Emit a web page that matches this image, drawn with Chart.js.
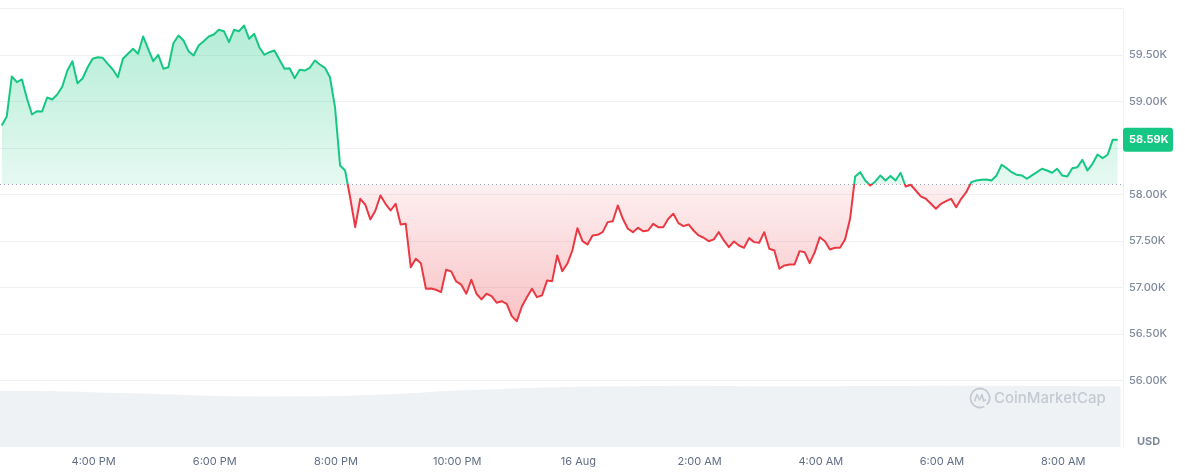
<!DOCTYPE html>
<html>
<head>
<meta charset="utf-8">
<script src="https://cdn.jsdelivr.net/npm/chart.js@4.4.1/dist/chart.umd.min.js"></script>
<style>
  html, body { margin: 0; padding: 0; background: #fff; }
  #wrap { width: 1185px; height: 473px; }
</style>
</head>
<body>
<div id="wrap"><canvas id="chart" width="1185" height="473"></canvas></div>
<script>
// BTC / USD, one point every 5 minutes (15 Aug afternoon -> 16 Aug morning)
const startMinute = -91;   // minutes from 4:00 PM to the first point
const stepMinutes = 5;
const openPrice = 58108;   // the dotted reference line

const prices = [
  58742, 58839, 59269, 59208, 59237, 59032, 58860, 58896, 58893, 59043,
  59022, 59075, 59161, 59333, 59433, 59197, 59247, 59366, 59459, 59476,
  59470, 59405, 59344, 59261, 59459, 59513, 59567, 59513, 59699, 59567,
  59433, 59502, 59352, 59369, 59627, 59710, 59656, 59541, 59495, 59602,
  59648, 59699, 59720, 59771, 59756, 59638, 59771, 59756, 59817, 59674,
  59728, 59584, 59502, 59530, 59548, 59448, 59352, 59358, 59251, 59341,
  59333, 59362, 59441, 59398, 59362, 59261, 58939, 58312, 58258, 57968,
  57649, 57954, 57890, 57732, 57828, 57990, 57900, 57828, 57900, 57678,
  57685, 57219, 57309, 57262, 56987, 56990, 56976, 56950, 57191, 57173,
  57065, 57030, 56933, 57083, 56933, 56872, 56933, 56907, 56836, 56853,
  56825, 56692, 56638, 56796, 56896, 56987, 56896, 56915, 57076, 57068,
  57345, 57176, 57255, 57398, 57638, 57498, 57463, 57560, 57567, 57595,
  57703, 57713, 57882, 57739, 57632, 57595, 57642, 57606, 57613, 57685,
  57649, 57649, 57739, 57793, 57692, 57660, 57678, 57613, 57560, 57535,
  57498, 57517, 57595, 57506, 57434, 57495, 57452, 57427, 57531, 57488,
  57481, 57595, 57417, 57398, 57202, 57237, 57248, 57248, 57391, 57380,
  57262, 57380, 57541, 57498, 57409, 57427, 57427, 57517, 57739, 58194,
  58240, 58151, 58097, 58140, 58205, 58151, 58200, 58151, 58234, 58086,
  58105, 58043, 57979, 57954, 57900, 57847, 57900, 57928, 57954, 57864,
  57954, 58025, 58133, 58151, 58158, 58162, 58151, 58205, 58320, 58283,
  58240, 58212, 58205, 58169, 58205, 58240, 58277, 58258, 58234, 58277,
  58205, 58194, 58283, 58294, 58373, 58258, 58330, 58430, 58391, 58427,
  58588, 58590
];

// 24h volume, billions USD (same points)
const volumes = [
  31.9, 31.9, 31.8, 31.8, 31.9, 31.8, 31.7, 31.8, 31.7, 31.6,
  31.7, 31.6, 31.5, 31.5, 31.4, 31.3, 31.3, 31.2, 31.0, 30.9,
  30.8, 30.7, 30.6, 30.6, 30.5, 30.5, 30.4, 30.3, 30.3, 30.2,
  30.1, 30.0, 29.9, 29.8, 29.7, 29.6, 29.5, 29.4, 29.3, 29.2,
  29.1, 29.0, 29.0, 28.9, 28.9, 28.8, 28.8, 28.8, 28.7, 28.7,
  28.7, 28.6, 28.6, 28.6, 28.6, 28.6, 28.7, 28.7, 28.7, 28.7,
  28.7, 28.8, 28.8, 28.8, 28.8, 28.9, 28.9, 28.9, 29.0, 29.1,
  29.2, 29.3, 29.4, 29.5, 29.6, 29.7, 29.8, 29.9, 30.0, 30.1,
  30.3, 30.5, 30.6, 30.8, 31.0, 31.2, 31.4, 31.6, 31.7, 31.9,
  32.0, 32.1, 32.2, 32.3, 32.4, 32.5, 32.6, 32.7, 32.8, 32.9,
  33.0, 33.1, 33.2, 33.3, 33.4, 33.5, 33.6, 33.7, 33.8, 33.8,
  33.9, 33.9, 34.0, 34.0, 34.1, 34.1, 34.2, 34.2, 34.3, 34.3,
  34.4, 34.4, 34.4, 34.5, 34.5, 34.5, 34.5, 34.6, 34.6, 34.6,
  34.6, 34.6, 34.7, 34.7, 34.7, 34.7, 34.7, 34.7, 34.7, 34.7,
  34.7, 34.6, 34.6, 34.6, 34.6, 34.6, 34.5, 34.5, 34.5, 34.5,
  34.5, 34.5, 34.5, 34.5, 34.5, 34.5, 34.5, 34.5, 34.5, 34.5,
  34.5, 34.5, 34.5, 34.5, 34.5, 34.5, 34.5, 34.6, 34.6, 34.6,
  34.6, 34.6, 34.6, 34.6, 34.6, 34.6, 34.6, 34.6, 34.6, 34.6,
  34.6, 34.6, 34.7, 34.7, 34.7, 34.7, 34.7, 34.7, 34.7, 34.7,
  34.7, 34.7, 34.7, 34.7, 34.7, 34.7, 34.7, 34.7, 34.7, 34.7,
  34.7, 34.7, 34.7, 34.6, 34.6, 34.6, 34.6, 34.6, 34.6, 34.6,
  34.6, 34.6, 34.6, 34.5, 34.5, 34.5, 34.5, 34.5, 34.5, 34.4,
  34.4, 34.4
];

// x ticks (minutes from 4:00 PM) and their labels
const timeTicks = [0, 120, 240, 360, 480, 600, 720, 840, 960];
const timeLabels = ['4:00 PM', '6:00 PM', '8:00 PM', '10:00 PM', '16 Aug', '2:00 AM', '4:00 AM', '6:00 AM', '8:00 AM'];

// y ticks; 58.50K sits under the price badge and 60.00K on the top edge
const priceTicks = [56000, 56500, 57000, 57500, 58000, 58500, 59000, 59500, 60000];
const unlabeledTicks = [58500, 60000];

const GREEN = '#16c784';
const RED = '#ea3943';

const priceData = prices.map((p, i) => ({x: startMinute + i * stepMinutes, y: p}));
const volumeData = volumes.map((v, i) => ({x: startMinute + i * stepMinutes, y: v}));

function frac(area, y) {
    return Math.min(1, Math.max(0, (y - area.top) / (area.bottom - area.top)));
}

// line colour: green above the open price, red below
function lineColor(context) {
    const chart = context.chart;
    const area = chart.chartArea;
    if (!area) return GREEN;
    const f = frac(area, chart.scales.y.getPixelForValue(openPrice));
    const g = chart.ctx.createLinearGradient(0, area.top, 0, area.bottom);
    g.addColorStop(0, GREEN);
    g.addColorStop(f, GREEN);
    g.addColorStop(f, RED);
    g.addColorStop(1, RED);
    return g;
}

// area fill between the line and the open price
function areaColor(context) {
    const chart = context.chart;
    const area = chart.chartArea;
    if (!area) return 'rgba(22,199,132,0.2)';
    const y = chart.scales.y;
    const fHi = frac(area, y.getPixelForValue(Math.max(...prices)));
    const fBase = frac(area, y.getPixelForValue(openPrice));
    const fLo = frac(area, y.getPixelForValue(Math.min(...prices)));
    const g = chart.ctx.createLinearGradient(0, area.top, 0, area.bottom);
    g.addColorStop(0, 'rgba(22,199,132,0.32)');
    g.addColorStop(fHi, 'rgba(22,199,132,0.32)');
    g.addColorStop(fBase, 'rgba(22,199,132,0.11)');
    g.addColorStop(fBase, 'rgba(234,57,67,0.08)');
    g.addColorStop(fLo, 'rgba(234,57,67,0.30)');
    g.addColorStop(1, 'rgba(234,57,67,0.30)');
    return g;
}

// dotted open-price line, drawn over the fill and under the price line
const openLinePlugin = {
    id: 'openLine',
    beforeDatasetDraw(chart, args) {
        if (args.index !== 0) return;
        const {ctx, chartArea} = chart;
        const y = Math.round(chart.scales.y.getPixelForValue(openPrice)) + 0.5;
        ctx.save();
        ctx.strokeStyle = '#9aa3b5';
        ctx.lineWidth = 1;
        ctx.setLineDash([1, 3]);
        ctx.beginPath();
        ctx.moveTo(chartArea.left, y);
        ctx.lineTo(chartArea.right, y);
        ctx.stroke();
        ctx.restore();
    }
};

function roundRect(ctx, x, y, w, h, r) {
    ctx.beginPath();
    ctx.moveTo(x + r, y);
    ctx.lineTo(x + w - r, y);
    ctx.quadraticCurveTo(x + w, y, x + w, y + r);
    ctx.lineTo(x + w, y + h - r);
    ctx.quadraticCurveTo(x + w, y + h, x + w - r, y + h);
    ctx.lineTo(x + r, y + h);
    ctx.quadraticCurveTo(x, y + h, x, y + h - r);
    ctx.lineTo(x, y + r);
    ctx.quadraticCurveTo(x, y, x + r, y);
    ctx.closePath();
}

// watermark, last price badge and the USD unit
const overlayPlugin = {
    id: 'overlay',
    afterDraw(chart) {
        const {ctx, chartArea} = chart;
        const yScale = chart.scales.y;

        // watermark
        ctx.save();
        const cx = 980, cy = 398;
        ctx.strokeStyle = '#c5cad2';
        ctx.lineWidth = 1.8;
        ctx.beginPath();
        ctx.arc(cx, cy, 9.5, 0.35 * Math.PI, 2.25 * Math.PI);
        ctx.stroke();
        ctx.lineWidth = 1.6;
        ctx.lineJoin = 'round';
        ctx.beginPath();
        ctx.moveTo(cx - 5.5, cy + 3.5);
        ctx.lineTo(cx - 3, cy - 3.5);
        ctx.lineTo(cx - 0.5, cy + 2);
        ctx.lineTo(cx + 2, cy - 3.5);
        ctx.lineTo(cx + 3.5, cy + 3);
        ctx.lineTo(cx + 6, cy + 1.5);
        ctx.stroke();
        ctx.fillStyle = '#c5cad2';
        ctx.font = '500 15px Inter';
        ctx.textBaseline = 'middle';
        ctx.textAlign = 'left';
        ctx.fillText('CoinMarketCap', 994, cy + 0.5);
        ctx.restore();

        // last price badge
        const last = prices[prices.length - 1];
        const by = yScale.getPixelForValue(last);
        ctx.save();
        ctx.fillStyle = GREEN;
        roundRect(ctx, chartArea.right, by - 12, 50, 24, 3);
        ctx.fill();
        ctx.fillStyle = '#ffffff';
        ctx.font = '700 11px Inter';
        ctx.textBaseline = 'middle';
        ctx.textAlign = 'left';
        ctx.fillText((last / 1000).toFixed(2) + 'K', chartArea.right + 6, by + 0.5);
        ctx.restore();

        // unit
        ctx.save();
        ctx.fillStyle = '#808a9d';
        ctx.font = '700 11px Inter';
        ctx.textBaseline = 'middle';
        ctx.textAlign = 'left';
        ctx.fillText('USD', chartArea.right + 14, 442);
        ctx.restore();
    }
};

new Chart(document.getElementById('chart'), {
    type: 'line',
    data: {
        datasets: [{
            type: 'line',
            label: 'Price',
            data: priceData,
            borderColor: lineColor,
            backgroundColor: areaColor,
            borderWidth: 2,
            borderJoinStyle: 'round',
            pointRadius: 0,
            tension: 0,
            fill: {value: openPrice},
            yAxisID: 'y',
            order: 1
        }, {
            type: 'bar',
            label: 'Volume',
            data: volumeData,
            backgroundColor: '#eff2f5',
            borderWidth: 0,
            barPercentage: 1,
            categoryPercentage: 1,
            yAxisID: 'yv',
            order: 2
        }]
    },
    plugins: [openLinePlugin, overlayPlugin],
    options: {
        responsive: false,
        animation: false,
        layout: {padding: {top: 8.5, left: 0, right: 0, bottom: 0}},
        plugins: {
            legend: {display: false},
            tooltip: {enabled: false}
        },
        scales: {
            x: {
                type: 'linear',
                min: -92.7,
                max: 1019.2,
                offset: false,
                grid: {display: false, drawTicks: false},
                border: {display: false},
                afterBuildTicks: s => { s.ticks = timeTicks.map(v => ({value: v})); },
                afterFit: s => { s.height = 26; s.paddingLeft = 0; s.paddingRight = 0; },
                ticks: {
                    autoSkip: false,
                    maxRotation: 0,
                    padding: 8,
                    color: '#616e85',
                    font: {family: 'Inter', size: 11},
                    callback: v => timeLabels[timeTicks.indexOf(v)]
                }
            },
            y: {
                position: 'right',
                min: 55285,
                max: 60000,
                grid: {color: '#eff2f5', drawTicks: false},
                border: {color: '#eff2f5'},
                afterBuildTicks: s => { s.ticks = priceTicks.map(v => ({value: v})); },
                afterFit: s => { s.width = 62; s.paddingTop = 0; s.paddingBottom = 0; },
                ticks: {
                    padding: 6,
                    color: '#808a9d',
                    font: {family: 'Inter', size: 11, weight: '500'},
                    callback: v => unlabeledTicks.includes(v) ? '' : (v / 1000).toFixed(2) + 'K'
                }
            },
            yv: {
                display: false,
                min: 0,
                max: 250
            }
        }
    }
});
</script>
</body>
</html>
